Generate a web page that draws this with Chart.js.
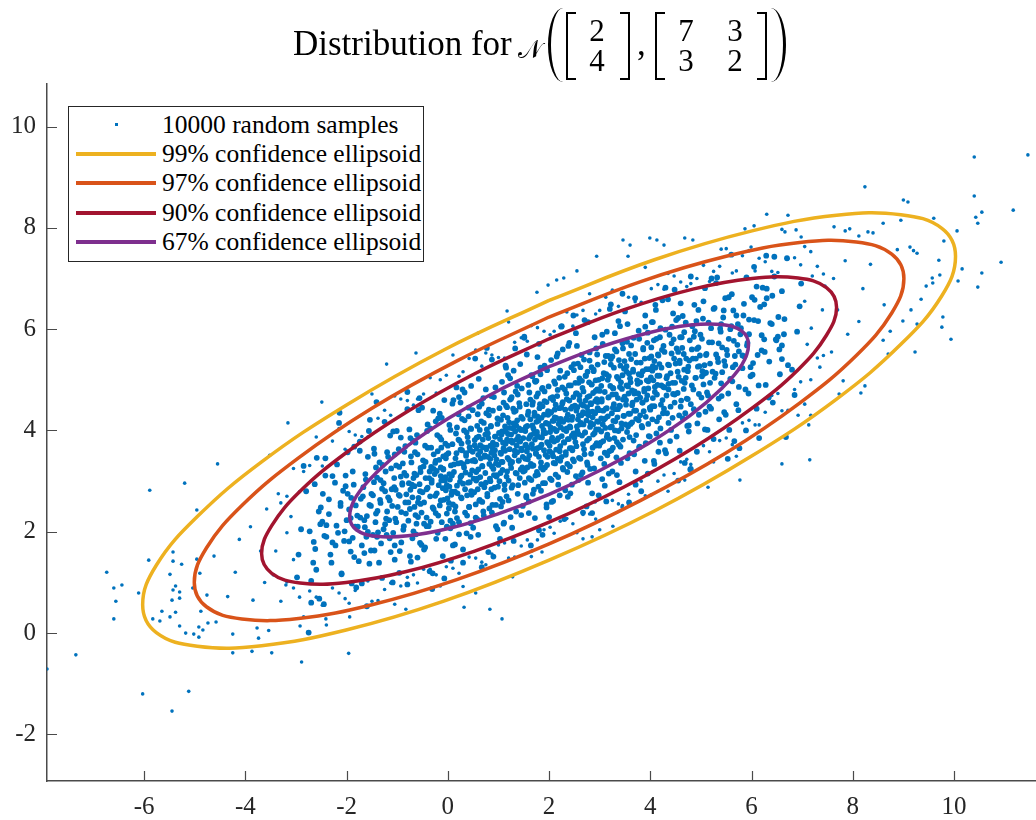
<!DOCTYPE html>
<html>
<head>
<meta charset="utf-8">
<script src="https://cdn.jsdelivr.net/npm/chart.js@4.4.1/dist/chart.umd.min.js"></script>
<style>
  body { margin: 0; background: #fff; }
  #lienzo { position: relative; width: 1036px; height: 820px; font-family: 'Liberation Serif', serif; color: #000; }
  #grafico { position: absolute; left: 0; top: 0; }
  .abs { position: absolute; }
  .txt { font-size: 35px; line-height: 35px; top: 26px; white-space: nowrap; }
  .parI { width: 15px; height: 74px; top: 8px; border-left: 3px solid #000; border-radius: 100% 0 0 100% / 50% 0 0 50%; box-sizing: border-box; }
  .parD { width: 15px; height: 74px; top: 8px; border-right: 3px solid #000; border-radius: 0 100% 100% 0 / 0 50% 50% 0; box-sizing: border-box; }
  .corI { width: 10px; height: 68px; top: 12px; border: 2px solid #000; border-right: none; box-sizing: border-box; }
  .corD { width: 10px; height: 68px; top: 12px; border: 2px solid #000; border-left: none; box-sizing: border-box; }
  .celda { width: 24px; font-size: 31px; line-height: 30px; text-align: center; }
  #leyenda { left: 68px; top: 106px; width: 356px; height: 156px; border: 1px solid #262626; background: #fff; box-sizing: border-box; }
  .fila { position: absolute; left: 0; height: 29px; width: 350px; }
  .fila .linea { position: absolute; left: 7px; top: 13px; width: 80px; height: 3.5px; }
  .fila .punto { position: absolute; left: 46px; top: 13px; width: 3px; height: 3px; background: #0072BD; }
  .fila .etiq { position: absolute; left: 93px; top: 0; font-size: 25.5px; line-height: 29px; white-space: nowrap; color: #000; }
</style>
</head>
<body>
<div id="lienzo">
  <canvas id="grafico" width="1036" height="820"></canvas>

  <!-- titulo: Distribution for N([2;4],[7 3;3 2]) -->
  <div class="abs txt" style="left:293px">Distribution for</div>
  <div class="abs txt" style="left:518px;font-size:25px;top:32px">𝒩</div>
  <div class="abs parI" style="left:548px"></div>
  <div class="abs corI" style="left:566px"></div>
  <div class="abs celda" style="left:585px;top:16px">2</div>
  <div class="abs celda" style="left:585px;top:46px">4</div>
  <div class="abs corD" style="left:620px"></div>
  <div class="abs txt" style="left:637px">,</div>
  <div class="abs corI" style="left:655px"></div>
  <div class="abs celda" style="left:674px;top:16px">7</div>
  <div class="abs celda" style="left:723px;top:16px">3</div>
  <div class="abs celda" style="left:674px;top:46px">3</div>
  <div class="abs celda" style="left:723px;top:46px">2</div>
  <div class="abs corD" style="left:757px"></div>
  <div class="abs parD" style="left:771px"></div>

  <div id="leyenda" class="abs"></div>
</div>

<script>
// ---- datos ----
const etiquetasSerie = ['10000 random samples', '99% confidence ellipsoid', '97% confidence ellipsoid',
                        '90% confidence ellipsoid', '67% confidence ellipsoid'];
const coloresSerie = ['#0072BD', '#EDB120', '#D95319', '#A2142F', '#7E2F8E'];
const marcasX = [-6, -4, -2, 0, 2, 4, 6, 8, 10];
const marcasY = [-2, 0, 2, 4, 6, 8, 10];
const rangoX = [-7.92, 11.62];
const rangoY = [-2.92, 10.84];

// muestras sueltas en los bordes de la nube (x, y)
const muestrasSueltas = [
  [11.46,9.44],[10.40,9.40],[8.24,8.81],[9.00,8.55],[9.09,8.51],[10.40,8.63],[11.17,8.35],[10.55,8.31],[10.43,8.21],[10.47,8.09],
  [9.60,8.19],[10.06,7.94],[9.80,7.74],[10.93,7.32],[10.55,7.11],[10.47,6.83],[10.16,7.19],[10.08,6.95],[9.70,7.36],[9.72,7.07],
  [9.57,7.01],[9.58,6.91],[9.45,6.85],[9.35,6.59],[9.78,6.24],[8.95,8.15],[8.60,8.09],[9.13,7.62],[9.20,7.55],[9.27,7.50],
  [9.76,6.04],[9.94,5.80],[9.23,5.55],[9.27,6.10],[9.15,6.38],[8.99,6.16],[8.70,5.51],[8.74,5.96],[8.60,5.78],[8.24,4.88],
  [8.16,4.74],[7.73,4.72],[7.81,4.98],[7.17,4.30],[7.13,4.11],[6.60,3.34],[6.92,4.30],
  [-7.35,-0.43],[-7.92,-0.71],[-6.03,-1.20],[-5.12,-1.15],[-5.45,-1.54],[-6.74,1.20],[-6.60,0.89],[-6.44,0.95],[-6.56,0.63],
  [-6.60,0.28],[-5.91,1.44],[-6.11,0.79],[-5.43,1.60],[-5.43,1.42],[-5.49,1.16],[-5.26,1.36],[-5.38,0.93],[-5.43,0.85],[-5.30,0.81],
  [-5.45,0.65],[-5.30,0.69],[-5.65,0.43],[-5.83,0.28],[-5.69,0.24],[-5.49,0.32],[-5.38,0.41],[-5.30,0.14],[-5.18,0.00],[-5.02,-0.02],
  [-4.92,-0.08],[-4.92,0.12],[-4.84,0.06],[-4.74,0.20],[-4.58,0.22],[-4.25,-0.39],[-3.87,-0.36],[-3.48,-0.39],[-2.89,-0.57],[-4.25,-0.02],
  [-3.74,-0.10],[-3.77,0.10],[-3.54,0.05],[-2.92,0.14],[-2.77,0.02],[-2.41,0.28],[-4.96,1.46],[-4.90,1.18],[-5.04,0.89],[-4.76,0.75],
  [-1.96,-0.40],[1.07,0.28],[0.83,0.47],[0.32,0.51],[0.55,0.79],[1.28,1.11],[-0.83,0.47],[-1.94,0.32],[3.26,2.11],[3.44,2.49],
  [2.91,2.59],[2.67,1.86],[2.85,1.90],[1.86,1.60],[1.66,1.62],
  [6.30,8.27],[6.72,8.25],[4.13,7.76],[4.27,7.66],[4.68,7.80],[4.84,7.76],[3.56,7.44],[5.40,7.58],[5.87,7.98],[6.05,8.04],
  [6.66,7.92],[6.88,7.96],[6.98,7.82],[7.63,8.02],[7.85,7.94],[7.94,7.98],[8.30,7.92],[8.40,7.90],[8.12,7.84],[5.99,7.62],
  [-1.21,5.31],[-0.63,5.53],[1.76,6.73],[1.98,6.87],[2.15,6.97],[2.29,7.01],[2.55,7.15],[2.94,7.44],[3.46,7.76],[3.60,7.66],
  [3.99,7.80],[1.17,6.36],[0.59,5.92],[-3.52,3.51],[-4.55,3.34],[-4.96,2.43],[-5.89,2.82],[-5.20,2.96],[-2.49,4.56],[-3.16,4.15],
  [5.77,3.02],[5.14,2.88],[4.68,3.02],[7.15,3.42],
  [-4.62,1.52],[-4.88,0.43],[-4.12,1.85],[-4.35,0.72],[-4.20,1.20],
  [-3.90,2.10],[-3.62,1.00],[-3.70,1.62],[-3.85,0.65],[-3.58,2.45],
  [-3.40,1.62],[-3.10,2.30],[-3.20,0.95],[-3.35,2.75],[-3.05,1.45],[-3.45,1.15],[-3.18,1.98],
  [7.40,6.38],[7.10,5.70],[7.20,7.05],[7.35,5.25],[7.05,6.55],[7.45,6.85],[7.18,6.02],
  [7.90,5.90],[7.62,7.00],[7.70,6.38],[7.85,7.35],[7.58,5.55],
  [8.12,6.15],[8.35,7.28],[8.20,6.80],[8.62,6.48],[8.88,7.57],
  // franja entre la elipse del 90% y la del 99%
  [-3.30,2.57],[-3.30,0.63],[-3.05,3.25],[-3.05,0.89],[-2.85,3.19],[-2.85,0.32],[-2.60,3.87],[-2.60,0.71],[-2.40,3.46],[-2.40,0.16],
  [-2.15,4.04],[-2.15,0.79],[-1.95,3.98],[-1.95,0.59],[-1.70,3.88],[-1.70,0.98],[-1.50,4.72],[-1.50,0.63],[-1.25,4.40],[-1.25,0.86],
  [-1.05,4.68],[-1.05,0.57],[-0.80,4.59],[-0.80,1.10],[-0.60,4.62],[-0.60,0.99],[-0.35,5.04],[-0.35,1.26],[-0.15,5.00],[-0.15,0.93],
  [0.10,5.49],[0.10,1.28],[0.30,5.16],[0.30,0.92],[0.55,5.59],[0.55,1.48],[0.75,5.53],[0.75,1.35],[1.00,5.44],[1.00,1.74],
  [1.20,6.14],[1.20,1.48],[1.45,5.83],[1.45,1.72],[1.65,6.07],[1.65,1.51],[1.90,5.96],[1.90,2.04],[2.10,5.96],[2.10,1.97],
  [2.35,6.34],[2.35,2.26],[2.55,6.28],[2.55,1.98],[2.80,6.70],[2.80,2.35],[3.00,6.37],[3.00,2.04],[3.25,6.77],[3.25,2.62],
  [3.45,6.68],[3.45,2.52],[3.70,6.54],[3.70,2.96],[3.90,7.22],[3.90,2.71],[4.15,6.88],[4.15,3.00],[4.35,7.10],[4.35,2.80],
  [4.60,6.93],[4.60,3.38],[4.80,6.90],[4.80,3.33],[5.05,7.26],[5.05,3.70],[5.25,7.14],[5.25,3.38],[5.50,7.59],[5.50,3.85],
  [5.70,7.15],[5.70,3.49],[5.95,7.55],[5.95,4.20],[6.15,7.40],[6.15,4.11],[6.40,7.14],[6.40,4.69],[6.60,7.97],[6.60,4.39],
  [6.85,7.41],[6.85,4.81],[7.05,7.63],[7.05,4.52],[7.30,7.24],[7.30,5.43],
  [-3.18,2.70],[-3.18,1.01],[-2.93,2.79],[-2.93,0.71],[-2.73,3.31],[-2.73,0.83],[-2.48,3.30],[-2.48,0.55],[-2.28,3.79],[-2.28,0.89],
  [-2.03,3.63],[-2.03,0.68],[-1.83,3.91],[-1.83,0.84],[-1.58,3.87],[-1.58,1.03],[-1.38,4.24],[-1.38,0.64],[-1.13,4.30],[-1.13,0.99],
  [-0.93,4.62],[-0.93,0.93],[-0.68,4.50],[-0.68,1.15],[-0.48,4.72],[-0.48,1.26],[-0.23,4.74],[-0.23,1.15],[-0.03,5.09],[-0.03,1.31],
  [0.22,5.07],[0.22,1.18],[0.42,5.42],[0.42,1.50],[0.67,5.27],[0.67,1.40],[0.87,5.49],[0.87,1.56],[1.12,5.43],[1.12,1.78],
  [1.32,5.74],[1.32,1.50],[1.57,5.76],[1.57,1.84],[1.77,6.03],[1.77,1.84],[2.02,5.89],[2.02,2.09],[2.22,6.06],[2.22,2.21],
  [2.47,6.06],[2.47,2.16],[2.67,6.37],[2.67,2.34],[2.92,6.30],[2.92,2.25],[3.12,6.63],[3.12,2.60],[3.37,6.45],[3.37,2.55],
  [3.57,6.63],[3.57,2.74],[3.82,6.53],[3.82,3.00],[4.02,6.80],[4.02,2.73],[4.27,6.79],[4.27,3.12],[4.47,7.05],[4.47,3.15],
  [4.72,6.84],[4.72,3.43],[4.92,7.00],[4.92,3.60],[5.17,6.94],[5.17,3.58],[5.37,7.24],[5.37,3.80],[5.62,7.11],[5.62,3.72],
  [5.82,7.45],[5.82,4.15],[6.07,7.15],[6.07,4.11],[6.27,7.33],[6.27,4.36],[6.52,7.12],[6.52,4.73],[6.72,7.39],[6.72,4.40],
  [6.97,7.27],[6.97,4.96],[7.17,7.53],[7.17,5.00],[7.42,7.09],[7.42,5.48]
];

// nube central estimada del grafico, por franjas de x (x, y)
const muestrasNube = [
  [-2.90,2.05],[-2.60,1.25],[-2.80,2.80],[-2.55,2.40],[-2.95,1.55],[-2.70,0.60],[-2.65,1.80],[-2.85,3.30],[-2.52,2.15],[-2.98,1.10],
  [-2.45,0.57],[-2.10,1.16],[-2.30,1.39],[-2.05,1.82],[-2.40,1.90],[-2.20,2.12],[-2.48,2.20],[-2.12,2.51],[-2.35,2.64],[-2.02,2.90],
  [-2.28,3.10],[-2.42,3.45],[-2.15,4.15],
  [-1.60,0.53],[-1.90,0.98],[-1.55,1.37],[-1.85,1.50],[-1.70,1.73],[-1.95,1.81],[-1.58,2.00],[-1.78,2.10],[-1.65,2.23],[-1.92,2.27],
  [-1.52,2.51],[-1.82,2.52],[-1.68,2.70],[-1.98,2.75],[-1.62,3.03],[-1.88,3.19],[-1.74,3.60],[-1.56,3.99],
  [-1.30,1.09],[-1.05,1.45],[-1.45,1.63],[-1.15,1.87],[-1.38,1.99],[-1.02,2.19],[-1.22,2.26],[-1.42,2.36],[-1.10,2.51],[-1.33,2.57],
  [-1.18,2.68],[-1.48,2.72],[-1.06,2.88],[-1.27,2.96],[-1.40,3.07],[-1.12,3.25],[-1.35,3.37],[-1.20,3.57],[-1.46,3.64],[-1.08,3.98],
  [-1.25,4.17],[-1.40,1.90],[-1.03,2.83],
  [-0.80,0.96],[-0.60,1.49],[-0.95,1.62],[-0.55,1.78],[-0.70,1.87],[-0.88,2.04],[-0.62,2.16],[-0.78,2.22],[-0.52,2.38],[-0.92,2.39],
  [-0.66,2.49],[-0.84,2.58],[-0.58,2.67],[-0.97,2.73],[-0.74,2.83],[-0.56,2.94],[-0.90,2.96],[-0.68,3.06],[-0.82,3.11],[-0.54,3.26],
  [-0.96,3.28],[-0.72,3.37],[-0.60,3.53],[-0.86,3.58],[-0.64,3.76],[-0.93,3.86],[-0.76,4.02],[-0.58,4.40],[-0.80,4.76],
  [-0.30,1.18],[-0.10,1.52],[-0.45,1.69],[-0.05,1.86],[-0.20,1.98],[-0.38,2.11],[-0.12,2.19],[-0.42,2.28],[-0.02,2.36],[-0.28,2.45],
  [-0.16,2.52],[-0.47,2.58],[-0.08,2.63],[-0.35,2.70],[-0.22,2.76],[-0.04,2.82],[-0.40,2.87],[-0.18,2.92],[-0.32,2.97],[-0.06,3.01],
  [-0.44,3.06],[-0.14,3.10],[-0.26,3.14],[-0.36,3.19],[-0.09,3.24],[-0.48,3.29],[-0.24,3.40],[-0.03,3.52],[-0.33,3.66],[-0.13,3.82],
  [-0.41,3.99],[-0.19,4.24],[-0.29,4.39],[-0.07,4.60],
  [0.30,1.39],[0.10,1.73],[0.45,1.90],[0.05,2.07],[0.22,2.19],[0.38,2.32],[0.14,2.40],[0.42,2.49],[0.02,2.57],[0.27,2.66],
  [0.47,2.73],[0.08,2.79],[0.34,2.84],[0.18,2.91],[0.40,2.97],[0.04,3.03],[0.25,3.08],[0.44,3.13],[0.12,3.18],[0.32,3.27],
  [0.06,3.31],[0.20,3.35],[0.48,3.40],[0.15,3.45],[0.36,3.50],[0.01,3.55],[0.28,3.61],[0.43,3.67],[0.09,3.73],[0.23,3.80],
  [0.39,3.87],[0.16,3.94],[0.46,4.03],[0.03,4.11],[0.33,4.20],[0.21,4.32],[0.41,4.45],[0.11,4.60],[0.29,4.81],
  [0.80,1.60],[0.60,1.94],[0.95,2.11],[0.55,2.28],[0.70,2.40],[0.88,2.53],[0.62,2.61],[0.78,2.70],[0.52,2.78],[0.92,2.87],
  [0.66,2.94],[0.84,3.00],[0.58,3.05],[0.97,3.12],[0.74,3.16],[0.56,3.18],[0.90,3.24],[0.68,3.29],[0.82,3.34],[0.54,3.39],
  [0.96,3.43],[0.72,3.48],[0.60,3.52],[0.86,3.56],[0.64,3.58],[0.93,3.61],[0.76,3.66],[0.53,3.71],[0.89,3.76],[0.69,3.82],
  [0.57,3.86],[0.94,3.88],[0.79,3.94],[0.63,4.01],[0.85,4.08],[0.71,4.15],[0.98,4.24],[0.59,4.32],[0.81,4.41],[0.67,4.53],
  [0.91,4.66],[0.75,4.81],[0.61,5.02],[0.87,5.40],
  [1.30,1.82],[1.10,2.16],[1.45,2.33],[1.05,2.50],[1.20,2.62],[1.38,2.75],[1.12,2.83],[1.28,2.92],[1.02,3.00],[1.42,3.06],
  [1.16,3.09],[1.34,3.16],[1.08,3.22],[1.47,3.27],[1.24,3.34],[1.06,3.38],[1.40,3.40],[1.18,3.46],[1.32,3.51],[1.04,3.56],
  [1.46,3.61],[1.22,3.63],[1.10,3.65],[1.36,3.70],[1.14,3.74],[1.43,3.78],[1.26,3.80],[1.03,3.83],[1.39,3.88],[1.19,3.93],
  [1.07,3.98],[1.44,4.01],[1.29,4.04],[1.13,4.08],[1.35,4.10],[1.21,4.16],[1.48,4.23],[1.09,4.30],[1.31,4.37],[1.17,4.46],
  [1.41,4.54],[1.25,4.63],[1.11,4.75],[1.37,4.88],[1.23,5.03],[1.15,5.24],[1.33,5.62],
  [1.80,2.03],[1.60,2.37],[1.95,2.54],[1.55,2.71],[1.70,2.83],[1.88,2.96],[1.62,3.04],[1.78,3.13],[1.52,3.21],[1.92,3.27],
  [1.66,3.30],[1.84,3.37],[1.58,3.43],[1.97,3.48],[1.74,3.55],[1.56,3.59],[1.90,3.61],[1.68,3.64],[1.82,3.67],[1.54,3.72],
  [1.96,3.77],[1.72,3.82],[1.60,3.84],[1.86,3.86],[1.64,3.91],[1.93,3.95],[1.76,3.97],[1.53,3.99],[1.89,4.01],[1.69,4.04],
  [1.57,4.09],[1.94,4.14],[1.79,4.19],[1.63,4.22],[1.85,4.25],[1.71,4.29],[1.98,4.31],[1.59,4.37],[1.81,4.44],[1.67,4.51],
  [1.91,4.58],[1.75,4.67],[1.61,4.75],[1.87,4.84],[1.73,4.96],[1.65,5.09],[1.83,5.24],[1.77,5.45],[1.51,5.83],
  [2.30,2.25],[2.05,2.59],[2.42,2.76],[2.18,2.93],[2.02,3.05],[2.36,3.18],[2.27,3.26],[2.12,3.35],[2.47,3.43],[2.08,3.49],
  [2.33,3.52],[2.21,3.59],[2.44,3.65],[2.01,3.70],[2.29,3.77],[2.16,3.81],[2.39,3.83],[2.06,3.86],[2.25,3.89],[2.48,3.94],
  [2.14,3.99],[2.35,4.04],[2.03,4.06],[2.41,4.08],[2.19,4.13],[2.28,4.17],[2.09,4.19],[2.45,4.21],[2.23,4.23],[2.11,4.26],
  [2.37,4.31],[2.04,4.36],[2.32,4.41],[2.20,4.44],[2.46,4.47],[2.13,4.51],[2.26,4.53],[2.40,4.59],[2.07,4.66],[2.34,4.73],
  [2.17,4.80],[2.43,4.89],[2.10,4.97],[2.31,5.06],[2.22,5.18],[2.49,5.31],[2.15,5.46],[2.38,5.67],[2.24,6.05],
  [2.70,6.18],[2.90,5.84],[2.55,5.67],[2.95,5.50],[2.80,5.38],[2.62,5.25],[2.88,5.17],[2.72,5.08],[2.98,5.00],[2.58,4.94],
  [2.84,4.91],[2.66,4.84],[2.92,4.78],[2.53,4.73],[2.76,4.66],[2.94,4.62],[2.60,4.60],[2.82,4.54],[2.68,4.49],[2.96,4.44],
  [2.54,4.39],[2.78,4.37],[2.90,4.35],[2.64,4.30],[2.86,4.26],[2.57,4.22],[2.74,4.20],[2.97,4.17],[2.61,4.12],[2.81,4.07],
  [2.93,4.02],[2.56,3.99],[2.71,3.96],[2.87,3.92],[2.65,3.90],[2.79,3.84],[2.52,3.77],[2.91,3.70],[2.69,3.63],[2.83,3.54],
  [2.59,3.46],[2.75,3.37],[2.89,3.25],[2.63,3.12],[2.77,2.97],[2.85,2.76],[2.67,2.38],
  [3.20,6.40],[3.40,6.06],[3.05,5.89],[3.45,5.72],[3.30,5.60],[3.12,5.47],[3.38,5.39],[3.22,5.30],[3.48,5.22],[3.08,5.13],
  [3.34,5.06],[3.16,5.00],[3.42,4.95],[3.03,4.88],[3.26,4.84],[3.44,4.82],[3.10,4.76],[3.32,4.71],[3.18,4.66],[3.46,4.61],
  [3.04,4.57],[3.28,4.52],[3.40,4.48],[3.14,4.44],[3.36,4.42],[3.07,4.39],[3.24,4.34],[3.47,4.29],[3.11,4.24],[3.31,4.18],
  [3.43,4.14],[3.06,4.12],[3.21,4.06],[3.37,3.99],[3.15,3.92],[3.29,3.85],[3.02,3.76],[3.41,3.68],[3.19,3.59],[3.33,3.47],
  [3.09,3.34],[3.25,3.19],[3.39,2.98],[3.13,2.60],
  [3.70,6.61],[3.90,6.27],[3.55,6.10],[3.95,5.93],[3.78,5.81],[3.62,5.68],[3.86,5.60],[3.58,5.51],[3.98,5.43],[3.73,5.34],
  [3.53,5.27],[3.92,5.21],[3.66,5.16],[3.82,5.09],[3.60,5.03],[3.96,4.97],[3.75,4.92],[3.56,4.87],[3.88,4.82],[3.68,4.73],
  [3.94,4.69],[3.80,4.65],[3.52,4.60],[3.85,4.55],[3.64,4.50],[3.99,4.45],[3.72,4.39],[3.57,4.33],[3.91,4.27],[3.77,4.20],
  [3.61,4.13],[3.84,4.06],[3.54,3.97],[3.97,3.89],[3.67,3.80],[3.79,3.68],[3.59,3.55],[3.89,3.40],[3.71,3.19],
  [4.30,6.82],[4.10,6.48],[4.45,6.31],[4.05,6.14],[4.20,6.02],[4.38,5.89],[4.12,5.81],[4.42,5.72],[4.02,5.64],[4.28,5.55],
  [4.16,5.48],[4.47,5.42],[4.08,5.37],[4.35,5.30],[4.22,5.24],[4.04,5.18],[4.40,5.13],[4.18,5.08],[4.32,5.03],[4.06,4.99],
  [4.44,4.94],[4.14,4.90],[4.26,4.86],[4.36,4.81],[4.09,4.76],[4.48,4.71],[4.24,4.60],[4.03,4.48],[4.33,4.34],[4.13,4.18],
  [4.41,4.01],[4.19,3.76],[4.29,3.61],[4.07,3.40],
  [4.80,7.04],[4.60,6.51],[4.95,6.38],[4.55,6.22],[4.70,6.13],[4.88,5.96],[4.62,5.84],[4.78,5.78],[4.52,5.62],[4.92,5.61],
  [4.66,5.51],[4.84,5.42],[4.58,5.33],[4.97,5.27],[4.74,5.17],[4.56,5.06],[4.90,5.04],[4.68,4.94],[4.82,4.89],[4.54,4.74],
  [4.96,4.72],[4.72,4.63],[4.60,4.47],[4.86,4.42],[4.64,4.24],[4.93,4.14],[4.76,3.98],[4.58,3.60],[4.80,3.24],
  [5.30,6.91],[5.05,6.55],[5.45,6.37],[5.15,6.13],[5.38,6.01],[5.02,5.81],[5.22,5.74],[5.42,5.64],[5.10,5.49],[5.33,5.43],
  [5.18,5.32],[5.48,5.28],[5.06,5.12],[5.27,5.04],[5.40,4.93],[5.12,4.75],[5.35,4.63],[5.20,4.43],[5.46,4.36],[5.08,4.02],
  [5.25,3.83],[5.40,6.10],[5.03,5.17],
  [5.60,7.47],[5.90,7.02],[5.55,6.63],[5.85,6.50],[5.70,6.27],[5.95,6.19],[5.58,6.00],[5.78,5.90],[5.65,5.77],[5.92,5.73],
  [5.52,5.49],[5.82,5.48],[5.68,5.30],[5.98,5.25],[5.62,4.97],[5.88,4.81],[5.74,4.40],[5.56,4.01],
  [6.45,7.43],[6.10,6.84],[6.30,6.61],[6.05,6.18],[6.40,6.10],[6.20,5.88],[6.48,5.80],[6.12,5.49],[6.35,5.36],[6.02,5.10],
  [6.28,4.90],[6.42,4.55],[6.15,3.85],
  [6.90,5.95],[6.60,6.75],[6.80,5.20],[6.55,5.60],[6.95,6.45],[6.70,7.40],[6.65,6.20],[6.85,4.70],[6.52,5.85],[6.98,6.90],
  // segunda pasada, franjas desplazadas
  [-2.75,0.01],[-2.44,1.92],[-2.63,2.94],[-2.32,1.55],[-2.51,2.48],[-2.70,1.03],[-2.40,2.13],[-2.59,3.46],[-2.28,1.79],[-2.47,2.75],
  [-2.66,1.39],[-2.35,2.35],[-2.54,0.68],[-2.73,2.01],[-2.42,3.11],[-2.62,1.66],
  [-1.85,3.68],[-2.04,2.01],[-2.23,2.97],[-1.92,1.61],[-2.12,2.57],[-1.81,0.90],[-2.00,2.23],[-2.19,3.33],[-1.88,1.88],[-2.07,2.81],
  [-1.76,1.42],[-1.95,2.44],[-2.14,4.35],[-1.83,2.10],[-2.02,3.11],[-2.22,1.73],[-1.91,2.67],[-2.10,1.18],[-1.79,2.32],[-1.98,3.57],
  [-2.17,1.98],[-1.86,2.93],
  [-1.45,3.54],[-1.64,2.09],[-1.33,3.02],[-1.52,1.63],[-1.72,2.65],[-1.41,4.56],[-1.60,2.31],[-1.29,3.32],[-1.48,1.94],[-1.67,2.88],
  [-1.36,1.39],[-1.55,2.53],[-1.74,3.78],[-1.43,2.19],[-1.63,3.14],[-1.32,1.77],[-1.51,2.75],[-1.70,0.98],[-1.39,2.41],[-1.58,3.48],
  [-1.27,2.05],[-1.46,2.98],[-1.65,1.58],[-1.34,2.63],[-1.54,4.21],[-1.73,2.28],[-1.42,3.27],[-1.61,1.90],[-1.30,2.85],
  [-1.05,3.53],[-1.24,2.15],[-0.93,3.09],[-1.13,1.60],[-0.82,2.74],[-1.01,3.99],[-1.20,2.40],[-0.89,3.35],[-1.08,1.98],[-0.77,2.96],
  [-0.96,1.19],[-1.15,2.62],[-0.84,3.69],[-1.04,2.26],[-1.23,3.19],[-0.92,1.79],[-1.11,2.84],[-0.80,4.42],[-0.99,2.49],[-1.18,3.48],
  [-0.87,2.11],[-1.06,3.06],[-0.75,1.52],[-0.95,2.71],[-1.14,3.90],[-0.83,2.36],[-1.02,3.31],[-1.21,1.94],[-0.90,2.93],[-1.09,1.00],
  [-0.78,2.58],[-0.97,3.63],[-1.16,2.23],[-0.86,3.16],[-1.05,1.73],[-1.24,2.80],
  [-0.65,3.57],[-0.34,2.20],[-0.54,3.18],[-0.73,1.41],[-0.42,2.84],[-0.61,3.91],[-0.30,2.48],[-0.49,3.41],[-0.68,2.01],[-0.37,3.06],
  [-0.56,4.64],[-0.25,2.71],[-0.45,3.70],[-0.64,2.33],[-0.33,3.28],[-0.52,1.74],[-0.71,2.93],[-0.40,4.12],[-0.59,2.58],[-0.28,3.53],
  [-0.47,2.16],[-0.66,3.15],[-0.36,1.22],[-0.55,2.80],[-0.74,3.85],[-0.75,2.45],[-0.44,3.38],[-0.63,1.95],[-0.32,3.02],[-0.51,4.45],
  [-0.70,2.68],[-0.40,3.66],[-0.59,2.29],[-0.28,3.24],[-0.47,1.65],[-0.66,2.90],[-0.35,4.04],[-0.54,2.55],[-0.73,3.49],[-0.42,2.11],
  [-0.62,3.12],[-0.31,0.87],[-0.50,2.78],[-0.69,3.80],
  [0.25,3.62],[0.05,2.22],[-0.14,3.27],[0.17,4.85],[-0.02,2.92],[-0.21,3.91],[0.10,2.54],[-0.09,3.49],[0.22,1.95],[0.03,3.14],
  [-0.16,4.33],[0.14,2.79],[-0.05,3.74],[-0.24,2.37],[-0.25,3.36],[0.06,1.43],[-0.13,3.01],[0.18,4.06],[-0.01,2.66],[-0.20,3.59],
  [0.10,2.16],[-0.09,3.23],[0.22,4.66],[0.03,2.89],[-0.16,3.87],[0.15,2.50],[-0.04,3.45],[-0.23,1.86],[0.08,3.11],[-0.12,4.25],
  [0.19,2.76],[0.00,3.70],[-0.19,2.32],[0.12,3.33],[-0.07,1.08],[0.24,2.99],[0.05,4.01],[-0.14,2.62],[0.17,3.55],[-0.02,2.10],
  [-0.22,3.20],[0.09,4.53],[-0.10,2.86],[0.21,3.82],[0.02,2.46],[-0.17,3.42],[0.14,1.75],[-0.05,3.08],[-0.24,4.18],[0.07,2.73],
  [-0.13,3.66],[0.18,2.27],
  [0.64,3.71],[0.45,2.17],[0.26,3.36],[0.25,4.55],[0.56,3.01],[0.37,3.96],[0.68,2.59],[0.49,3.58],[0.30,1.65],[0.60,3.23],
  [0.41,4.28],[0.72,2.88],[0.53,3.81],[0.34,2.38],[0.65,3.45],[0.46,4.88],[0.27,3.11],[0.58,4.09],[0.38,2.72],[0.69,3.67],
  [0.50,2.08],[0.31,3.33],[0.62,4.47],[0.43,2.98],[0.74,3.92],[0.55,2.54],[0.36,3.55],[0.67,1.30],[0.48,3.21],[0.28,4.23],
  [0.59,2.84],[0.40,3.77],[0.71,2.32],[0.52,3.42],[0.33,4.75],[0.64,3.08],[0.45,4.04],[0.26,2.68],[0.57,3.64],[0.37,1.97],
  [0.68,3.30],[0.49,4.40],[0.30,2.95],[0.61,3.88],[0.42,2.49],[0.73,3.51],[0.54,5.42],[0.35,3.17],[0.66,4.18],[0.46,2.80],
  [0.27,3.74],[0.58,2.25],[0.39,3.39],[0.70,4.64],[0.51,3.05],[0.32,4.00],[0.63,2.63],[0.44,3.61],
  [1.22,3.79],[1.03,1.86],[0.84,3.44],[1.15,4.49],[0.96,3.09],[0.77,4.02],[1.08,2.59],[0.88,3.66],[1.19,5.09],[1.00,3.32],
  [0.81,4.30],[1.12,2.93],[0.93,3.88],[1.24,2.29],[1.05,3.54],[0.86,4.68],[1.17,3.19],[0.98,4.13],[0.78,2.75],[1.09,3.76],
  [0.90,1.51],[1.21,3.42],[1.02,4.44],[0.83,3.05],[1.14,3.98],[0.95,2.53],[0.76,3.63],[1.07,4.96],[0.87,3.29],[1.18,4.25],
  [0.99,2.89],[0.80,3.85],[1.11,2.18],[0.92,3.51],[1.23,4.61],[1.04,3.16],[0.85,4.09],[1.16,2.70],[0.96,3.72],[0.77,5.63],
  [1.08,3.38],[0.89,4.39],[1.20,3.01],[1.01,3.95],[0.82,2.46],[1.13,3.60],[0.94,4.85],[1.25,3.26],[1.05,4.21],[0.86,2.84],
  [1.17,3.82],[0.98,2.05],[0.79,3.48],[1.10,4.55],[0.91,3.12],[1.22,4.05],[1.03,2.65],[0.84,3.70],[1.14,5.28],[0.95,3.35],
  [0.76,4.34],[0.75,2.97],[1.06,3.92],[0.87,2.38],
  [1.62,3.88],[1.43,5.31],[1.74,3.54],[1.55,4.52],[1.36,3.15],[1.67,4.10],[1.48,2.51],[1.28,3.76],[1.59,4.90],[1.40,3.41],
  [1.71,4.35],[1.52,2.97],[1.33,3.98],[1.64,1.73],[1.45,3.64],[1.26,4.66],[1.57,3.27],[1.37,4.20],[1.68,2.75],[1.49,3.85],
  [1.30,5.18],[1.61,3.51],[1.42,4.47],[1.73,3.11],[1.54,4.07],[1.35,2.40],[1.66,3.73],[1.46,4.83],[1.27,3.38],[1.58,4.31],
  [1.39,2.92],[1.70,3.94],[1.51,5.85],[1.32,3.60],[1.63,4.61],[1.44,3.23],[1.75,4.17],[1.55,2.68],[1.36,3.82],[1.67,5.07],
  [1.48,3.48],[1.29,4.43],[1.60,3.06],[1.41,4.04],[1.72,2.27],[1.53,3.70],[1.34,4.77],[1.64,3.34],[1.45,4.27],[1.26,2.87],
  [1.25,3.92],[1.56,5.50],[1.37,3.57],[1.68,4.56],[1.49,3.19],[1.30,4.14],[1.60,2.60],[1.41,3.79],[1.72,4.98],[1.53,3.44],
  [1.34,4.39],[1.65,3.02],[1.46,4.01],[1.27,2.08],[1.58,3.66],[1.38,4.71],[1.69,3.31],
  [2.02,3.97],[1.83,5.11],[2.14,3.62],[1.95,4.56],[1.76,3.18],[2.07,4.19],[1.87,1.94],[2.18,3.85],[1.99,4.87],[1.80,3.48],
  [2.11,4.41],[1.92,2.96],[2.23,4.06],[2.04,5.39],[1.85,3.72],[2.16,4.68],[1.96,3.32],[1.77,4.28],[2.08,2.61],[1.89,3.94],
  [2.20,5.04],[2.01,3.59],[1.82,4.52],[2.13,3.13],[1.94,4.15],[2.25,6.06],[2.05,3.81],[1.86,4.82],[2.17,3.44],[1.98,4.38],
  [1.79,2.89],[2.10,4.03],[1.91,5.28],[2.22,3.69],[2.03,4.64],[1.84,3.27],[2.14,4.25],[1.95,2.48],[1.76,3.91],[1.75,4.98],
  [2.06,3.55],[1.87,4.48],[2.18,3.08],[1.99,4.13],[1.80,5.71],[2.10,3.78],[1.91,4.77],[2.22,3.40],[2.03,4.35],[1.84,2.81],
  [2.15,4.00],[1.96,5.19],[1.77,3.65],[2.08,4.60],[1.88,3.23],[2.19,4.22],[2.00,2.29],[1.81,3.87],[2.12,4.92],[1.93,3.52],
  [2.24,4.45],[2.05,3.02],[1.86,4.09],[2.17,5.52],[1.98,3.75],[1.78,4.73],[2.09,3.36],[1.90,4.31],[2.21,2.72],
  [2.42,4.06],[2.73,5.08],[2.54,3.69],[2.35,4.62],[2.66,3.17],[2.46,4.27],[2.27,5.60],[2.58,3.93],[2.39,4.89],[2.70,3.53],
  [2.51,4.49],[2.32,2.82],[2.63,4.15],[2.44,5.25],[2.75,3.80],[2.55,4.73],[2.36,3.34],[2.67,4.36],[2.48,6.27],[2.29,4.02],
  [2.60,5.03],[2.41,3.65],[2.72,4.59],[2.53,3.10],[2.34,4.24],[2.64,5.49],[2.45,3.90],[2.26,4.85],[2.25,3.48],[2.56,4.46],
  [2.37,2.69],[2.68,4.12],[2.49,5.19],[2.30,3.76],[2.60,4.69],[2.41,3.29],[2.72,4.34],[2.53,5.92],[2.34,3.99],[2.65,4.98],
  [2.46,3.61],[2.27,4.56],[2.58,3.02],[2.38,4.21],[2.69,5.40],[2.50,3.86],[2.31,4.81],[2.62,3.44],[2.43,4.43],[2.74,2.50],
  [2.55,4.08],[2.36,5.13],[2.67,3.73],[2.48,4.66],[2.28,3.23],[2.59,4.30],[2.40,5.73],[2.71,3.96],[2.52,4.94],[2.33,3.57],
  [2.64,4.52],[2.45,2.93],[2.26,4.18],[2.57,5.32],[2.37,3.83],[2.68,4.77],[2.49,3.39],
  [2.82,4.15],[3.13,5.11],[2.94,3.75],[3.25,4.71],[3.05,3.04],[2.86,4.37],[3.17,5.47],[2.98,4.02],[2.79,4.95],[3.10,3.56],
  [2.91,4.58],[3.22,6.49],[3.03,4.24],[2.84,5.25],[3.14,3.87],[2.95,4.81],[2.76,3.32],[2.75,4.46],[3.06,5.71],[2.87,4.12],
  [3.18,5.07],[2.99,3.70],[2.80,4.68],[3.10,2.91],[2.91,4.34],[3.22,5.41],[3.03,3.98],[2.84,4.91],[3.15,3.51],[2.96,4.56],
  [2.77,6.14],[3.08,4.21],[2.88,5.20],[3.19,3.83],[3.00,4.78],[2.81,3.24],[3.12,4.43],[2.93,5.62],[3.24,4.08],[3.05,5.03],
  [2.86,3.66],[3.17,4.65],[2.98,2.72],[2.78,4.30],[3.09,5.35],[2.90,3.95],[3.21,4.88],[3.02,3.45],[2.83,4.52],[3.14,5.95],
  [2.95,4.18],[2.76,5.16],[3.07,3.79],[2.87,4.74],[3.18,3.15],[2.99,4.40],[2.80,5.54],[3.11,4.05],[2.92,4.99],[3.23,3.61],
  [3.04,4.62],[2.85,2.37],[3.16,4.28],[2.96,5.30],
  [3.72,4.23],[3.53,5.16],[3.34,3.77],[3.64,4.79],[3.45,6.70],[3.26,4.45],[3.25,5.46],[3.56,4.08],[3.37,5.02],[3.68,3.53],
  [3.49,4.67],[3.30,5.92],[3.60,4.33],[3.41,5.28],[3.72,3.91],[3.53,4.89],[3.34,3.12],[3.65,4.55],[3.46,5.62],[3.27,4.19],
  [3.58,5.12],[3.38,3.72],[3.69,4.77],[3.50,6.35],[3.31,4.42],[3.62,5.41],[3.43,4.04],[3.74,4.99],[3.55,3.45],[3.36,4.64],
  [3.67,5.83],[3.48,4.29],[3.28,5.24],[3.59,3.87],[3.40,4.86],[3.71,2.93],[3.52,4.51],[3.33,5.56],[3.64,4.16],[3.45,5.09],
  [3.26,3.66],[3.57,4.73],[3.37,6.16],[3.68,4.39],[3.49,5.37],[3.30,4.00],[3.61,4.95],[3.42,3.36],[3.73,4.61],[3.54,5.75],
  [3.35,4.26],[3.66,5.20],[3.46,3.82],[3.27,4.83],[3.58,2.58],[3.39,4.49],[3.70,5.51],[3.51,4.12],
  [3.80,4.30],[4.10,5.24],[3.91,3.75],[4.22,4.89],[4.03,6.14],[3.84,4.55],[4.15,5.50],[3.96,4.13],[3.77,5.11],[4.08,3.34],
  [3.88,4.77],[4.19,5.84],[4.00,4.41],[3.81,5.34],[4.12,3.94],[3.93,4.99],[4.24,6.57],[4.05,4.64],[3.86,5.63],[4.17,4.26],
  [3.98,5.21],[3.78,3.67],[4.09,4.86],[3.90,6.05],[4.21,4.51],[4.02,5.46],[3.83,4.09],[4.14,5.08],[3.95,3.15],[3.76,4.73],
  [4.07,5.78],[3.87,4.38],[4.18,5.31],[3.99,3.88],[3.80,4.95],[4.11,6.38],[3.92,4.61],[4.23,5.59],[4.04,4.22],[3.85,5.17],
  [4.16,3.58],[3.96,4.83],[3.77,5.97],[4.08,4.48],[3.89,5.42],[4.20,4.04],[4.01,5.05],[3.82,2.80],[4.13,4.71],[3.94,5.73],
  [4.25,4.34],[4.05,5.27],
  [4.69,4.34],[4.50,5.32],[4.31,3.55],[4.62,4.98],[4.43,6.05],[4.74,4.62],[4.55,5.55],[4.36,4.15],[4.67,5.20],[4.48,6.78],
  [4.28,4.85],[4.59,5.84],[4.40,4.47],[4.71,5.42],[4.52,3.88],[4.33,5.07],[4.64,6.26],[4.45,4.72],[4.26,5.67],[4.57,4.30],
  [4.37,5.29],[4.68,3.36],[4.49,4.94],[4.30,5.99],[4.61,4.59],[4.42,5.52],[4.73,4.09],[4.54,5.16],[4.35,6.59],[4.66,4.82],
  [4.46,5.80],[4.27,4.43],[4.58,5.38],[4.39,3.79],[4.70,5.04],[4.51,6.18],[4.32,4.69],[4.63,5.63],[4.44,4.25],[4.75,5.26],
  [4.55,3.01],[4.36,4.92],[4.67,5.94],[4.48,4.55],
  [5.09,4.37],[4.90,5.42],[5.21,7.00],[5.02,5.07],[4.83,6.06],[5.14,4.69],[4.95,5.64],[4.76,4.10],[5.07,5.29],[4.87,6.48],
  [5.18,4.94],[4.99,5.89],[4.80,4.52],[5.11,5.51],[4.92,3.58],[5.23,5.16],[5.04,6.21],[4.85,4.81],[5.16,5.74],[4.96,4.31],
  [4.77,5.38],[5.08,6.81],[4.89,5.04],[5.20,6.02],[5.01,4.65],[4.82,5.60],[5.13,4.01],[4.94,5.26],[5.25,6.40],[5.05,4.91],
  [4.86,5.85],[5.17,4.47],[4.98,5.48],[4.79,3.23],[5.10,5.14],[4.91,6.16],
  [5.49,4.31],[5.30,5.50],[5.61,6.69],[5.42,5.15],[5.73,6.10],[5.54,4.73],[5.35,5.72],[5.66,3.79],[5.46,5.37],[5.27,6.42],
  [5.58,5.02],[5.39,5.95],[5.70,4.52],[5.51,5.59],[5.32,7.02],[5.63,5.25],[5.44,6.23],[5.75,4.86],[5.55,5.81],[5.36,4.22],
  [5.67,5.47],[5.48,6.61],[5.29,5.12],[5.60,6.06],[5.41,4.68],[5.72,5.69],[5.53,3.44],[5.34,5.35],[5.64,6.37],
  [5.89,4.00],[6.20,5.58],[6.01,6.63],[5.82,5.23],[6.13,6.16],[5.94,4.73],[6.25,5.80],[6.05,7.23],[5.86,5.46],[6.17,6.44],
  [5.98,5.07],[5.79,6.02],[6.10,4.43],[5.91,5.68],[6.22,6.82],[6.03,5.33],[5.84,6.27],[6.14,4.89],[5.95,5.90],[5.76,3.65],
  [5.75,5.56],[6.06,6.58],
  [6.29,7.45],[6.60,5.68],[6.41,6.66],[6.72,5.29],[6.53,6.24],[6.34,4.65],[6.64,5.90],[6.45,7.04],[6.26,5.55],[6.25,6.49],
  [6.56,5.11],[6.37,6.12],[6.68,3.87],[6.49,5.78],[6.30,6.80],[6.60,5.41]
];

// elipses de confianza, contorno (x, y), empezando arriba al centro
const elipse99 = [[2.00,6.57],[-0.08,5.59],[-2.01,4.50],[-3.68,3.38],[-4.95,2.30],[-5.76,1.34],[-6.03,0.56],[-5.76,0.01],
  [-4.95,-0.26],[-3.68,-0.25],[-2.01,0.06],[-0.08,0.63],[2.00,1.44],[4.08,2.41],[6.01,3.50],[7.68,4.62],[8.95,5.70],
  [9.76,6.66],[10.03,7.44],[9.76,7.99],[8.95,8.26],[7.68,8.25],[6.01,7.94],[4.08,7.37],[2.00,6.57]];
const elipse97 = [[2.00,6.24],[0.19,5.38],[-1.50,4.44],[-2.95,3.46],[-4.07,2.52],[-4.77,1.68],[-5.01,1.00],[-4.77,0.52],
  [-4.07,0.28],[-2.95,0.29],[-1.50,0.56],[0.19,1.06],[2.00,1.76],[3.81,2.62],[5.50,3.56],[6.95,4.54],[8.07,5.48],
  [8.77,6.32],[9.01,7.00],[8.77,7.48],[8.07,7.72],[6.95,7.71],[5.50,7.44],[3.81,6.94],[2.00,6.24]];
const elipse90 = [[2.00,5.81],[0.53,5.12],[-0.84,4.35],[-2.01,3.56],[-2.92,2.80],[-3.48,2.12],[-3.68,1.57],[-3.48,1.18],
  [-2.92,0.99],[-2.01,1.00],[-0.84,1.21],[0.53,1.62],[2.00,2.19],[3.47,2.88],[4.84,3.65],[6.01,4.44],[6.92,5.20],
  [7.48,5.88],[7.68,6.43],[7.48,6.82],[6.92,7.01],[6.01,7.00],[4.84,6.79],[3.47,6.38],[2.00,5.81]];
const elipse67 = [[2.00,5.26],[0.98,4.78],[0.03,4.25],[-0.79,3.70],[-1.41,3.17],[-1.81,2.70],[-1.94,2.31],[-1.81,2.04],
  [-1.41,1.91],[-0.79,1.92],[0.03,2.07],[0.98,2.35],[2.00,2.74],[3.02,3.22],[3.97,3.75],[4.79,4.30],[5.41,4.83],
  [5.81,5.30],[5.94,5.69],[5.81,5.96],[5.41,6.09],[4.79,6.08],[3.97,5.93],[3.02,5.65],[2.00,5.26]];

document.addEventListener('DOMContentLoaded', function () {
    const canvas = document.getElementById('grafico');
    const ctx = canvas.getContext('2d');
    const colorEjes = '#4a4a4a';
    const fuente = "'Liberation Serif', serif";

    const aPuntos = arr => arr.map(p => ({ x: p[0], y: p[1] }));
    const elipses = [elipse99, elipse97, elipse90, elipse67];

    const datasets = [{
        label: etiquetasSerie[0],
        data: aPuntos(muestrasNube),
        backgroundColor: coloresSerie[0],
        borderWidth: 0,
        pointRadius: 2.9,
        order: 6
    }, {
        label: etiquetasSerie[0],
        data: aPuntos(muestrasSueltas),
        backgroundColor: coloresSerie[0],
        borderWidth: 0,
        pointRadius: 1.8,
        order: 5
    }];
    elipses.forEach((e, i) => {
        datasets.push({
            label: etiquetasSerie[i + 1],
            data: aPuntos(e),
            showLine: true,
            borderColor: coloresSerie[i + 1],
            borderWidth: 3.5,
            tension: 0.4,
            pointRadius: 0,
            fill: false,
            order: 4 - i
        });
    });

    // marcas de los ejes hacia dentro, como en MATLAB
    const marcasDentro = {
        id: 'marcasDentro',
        afterDatasetsDraw(chart) {
            const { ctx, chartArea, scales } = chart;
            ctx.save();
            ctx.strokeStyle = colorEjes;
            ctx.lineWidth = 1.2;
            ctx.beginPath();
            marcasX.forEach(v => {
                const px = Math.round(scales.x.getPixelForValue(v)) + 0.5;
                ctx.moveTo(px, chartArea.bottom);
                ctx.lineTo(px, chartArea.bottom - 10);
            });
            marcasY.forEach(v => {
                const py = Math.round(scales.y.getPixelForValue(v)) + 0.5;
                ctx.moveTo(chartArea.left, py);
                ctx.lineTo(chartArea.left + 10, py);
            });
            ctx.stroke();
            ctx.restore();
        }
    };

    new Chart(ctx, {
        type: 'scatter',
        data: { datasets: datasets },
        options: {
            responsive: false,
            animation: false,
            layout: { padding: { top: 84, right: 0, bottom: 0, left: 0 }, autoPadding: false },
            plugins: { legend: { display: false }, tooltip: { enabled: false }, title: { display: false } },
            scales: {
                x: {
                    type: 'linear',
                    min: rangoX[0], max: rangoX[1],
                    afterBuildTicks: s => { s.ticks = marcasX.map(v => ({ value: v })); },
                    afterFit: s => { s.height = 39; },
                    grid: { display: true, drawOnChartArea: false, drawTicks: false },
                    border: { display: true, color: colorEjes, width: 1.5 },
                    ticks: { color: '#262626', padding: 11, maxRotation: 0, font: { family: fuente, size: 25 } }
                },
                y: {
                    type: 'linear',
                    min: rangoY[0], max: rangoY[1],
                    afterBuildTicks: s => { s.ticks = marcasY.map(v => ({ value: v })); },
                    afterFit: s => { s.width = 47; },
                    grid: { display: true, drawOnChartArea: false, drawTicks: false },
                    border: { display: true, color: colorEjes, width: 1.5 },
                    ticks: { color: '#262626', padding: 11, font: { family: fuente, size: 25 } }
                }
            }
        },
        plugins: [marcasDentro]
    });

    // leyenda en html
    const leyenda = document.getElementById('leyenda');
    const centros = [18, 47, 76, 106, 135];
    etiquetasSerie.forEach((t, i) => {
        const fila = document.createElement('div');
        fila.className = 'fila';
        fila.style.top = (centros[i] - 15) + 'px';
        const marca = document.createElement('div');
        if (i === 0) {
            marca.className = 'punto';
        } else {
            marca.className = 'linea';
            marca.style.background = coloresSerie[i];
        }
        const etiq = document.createElement('div');
        etiq.className = 'etiq';
        etiq.textContent = t;
        fila.appendChild(marca);
        fila.appendChild(etiq);
        leyenda.appendChild(fila);
    });
});
</script>
</body>
</html>
